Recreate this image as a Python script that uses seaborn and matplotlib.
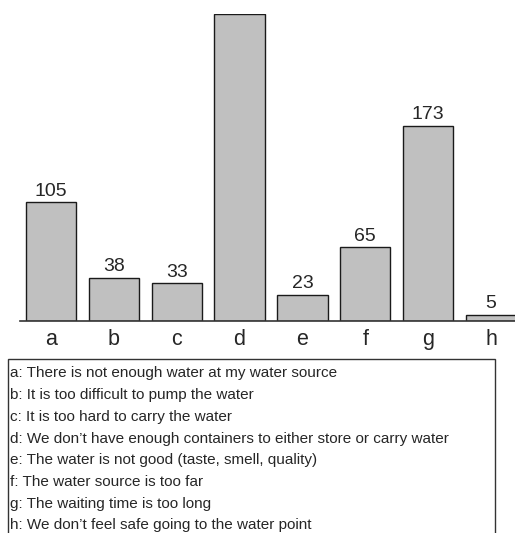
import pandas as pd
import seaborn as sns
from matplotlib import pyplot as plt
from matplotlib.patches import Rectangle

# reasons for not getting enough water (counts)
categories = ["a", "b", "c", "d", "e", "f", "g", "h"]
counts = [105, 38, 33, 272, 23, 65, 173, 5]
descriptions = [
    "a: There is not enough water at my water source",
    "b: It is too difficult to pump the water",
    "c: It is too hard to carry the water",
    "d: We don\u2019t have enough containers to either store or carry water",
    "e: The water is not good (taste, smell, quality)",
    "f: The water source is too far",
    "g: The waiting time is too long",
    "h: We don\u2019t feel safe going to the water point",
]

df = pd.DataFrame({"reason": categories, "count": counts})

sns.set_style("white")
plt.rcParams["font.family"] = ["Liberation Sans", "DejaVu Sans"]

fig = plt.figure(figsize=(5.15, 5.33), dpi=100)
ax = fig.add_axes([19.5 / 515, 212.3 / 533, 503 / 515, 306.7 / 533])

sns.barplot(data=df, x="reason", y="count", color="#c0c0c0", saturation=1,
            edgecolor="#1a1a1a", linewidth=1, width=0.8, ax=ax)

ax.set_xlim(-0.5, 7.5)
ax.set_ylim(0, 272)
top = ax.get_ylim()[1]
# the tallest bar reaches the top of the chart, its label falls outside the picture
labels = [str(v) if v < top else "" for v in counts]
ax.bar_label(ax.containers[0], labels=labels, padding=2, fontsize=14)

ax.set_xlabel("")
ax.set_ylabel("")
ax.set_yticks([])
ax.tick_params(axis="x", length=0, labelsize=15.5, pad=6)
for side in ["top", "right", "left"]:
    ax.spines[side].set_visible(False)
ax.spines["bottom"].set_color("#333333")
ax.spines["bottom"].set_linewidth(1.2)

# description box below the chart
fig.patches.append(Rectangle((7.5 / 515, -0.05), 487 / 515, 0.05 + (533 - 358.5) / 533,
                             transform=fig.transFigure, fill=False,
                             edgecolor="#333333", linewidth=1))
for i, line in enumerate(descriptions):
    fig.text(10.5 / 515, (533 - 377.5 - i * 21.7) / 533, line, fontsize=11,
             va="baseline", ha="left")

fig.savefig("out.png", dpi=100)
